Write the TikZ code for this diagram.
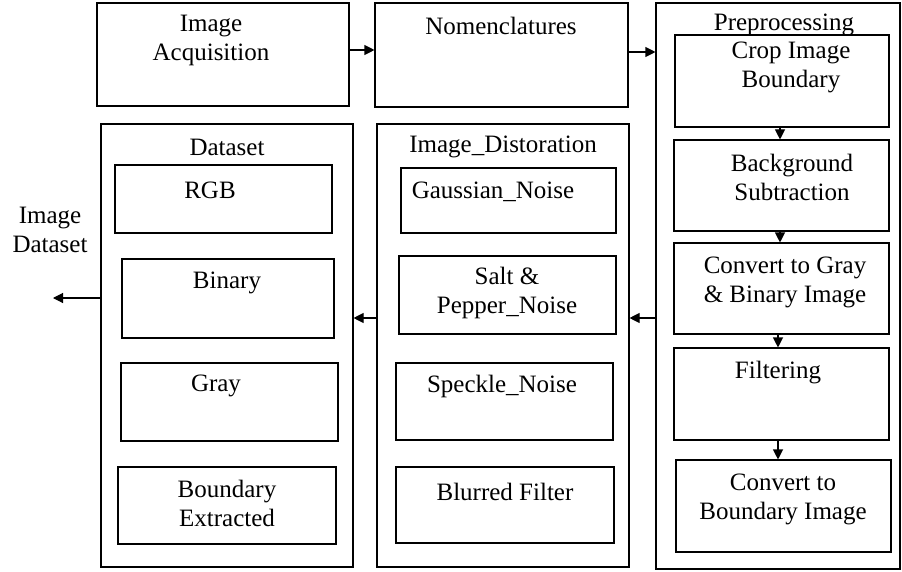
\documentclass[tikz,border=0pt]{standalone}
\usepackage{fontspec}
\setmainfont{Liberation Serif}
\usetikzlibrary{arrows.meta}
\begin{document}
\begin{tikzpicture}[x=1pt,y=-1pt,
  box/.style={draw, line width=1.1pt, inner sep=0pt},
  lbl/.style={font=\fontsize{25}{29}\selectfont, align=center, inner sep=0pt},
  arr/.style={line width=1.1pt, -{Triangle[length=10pt,width=10pt]}}]
\useasboundingbox[fill=white] (0,0) rectangle (902,572);
% top row
\node[box, minimum width=252pt, minimum height=103pt] (ia) at (223,54.5) {};
\node[box, minimum width=253pt, minimum height=104pt] (nom) at (501.5,55) {};
% preprocessing
\node[box, minimum width=244pt, minimum height=566pt] (pre) at (778,286) {};
\node[box, minimum width=214pt, minimum height=92pt] (crop) at (782,81) {};
\node[box, minimum width=215pt, minimum height=91pt] (bg) at (781.5,185.5) {};
\node[box, minimum width=215pt, minimum height=91pt] (cg) at (781.5,288.5) {};
\node[box, minimum width=215pt, minimum height=92pt] (filt) at (781.5,394) {};
\node[box, minimum width=215pt, minimum height=92pt] (cb) at (783.5,506) {};
% distortion
\node[box, minimum width=252pt, minimum height=443pt] (dist) at (503,345.5) {};
\node[box, minimum width=215pt, minimum height=65pt] (gauss) at (508.5,200.5) {};
\node[box, minimum width=217pt, minimum height=78pt] (salt) at (507.5,295) {};
\node[box, minimum width=217pt, minimum height=77pt] (speck) at (504.5,401.5) {};
\node[box, minimum width=218pt, minimum height=76pt] (blur) at (505,505) {};
% dataset
\node[box, minimum width=252pt, minimum height=443pt] (data) at (227,345.5) {};
\node[box, minimum width=217pt, minimum height=68pt] (rgb) at (223.5,199) {};
\node[box, minimum width=212pt, minimum height=79pt] (bin) at (228,298.5) {};
\node[box, minimum width=217pt, minimum height=78pt] (gray) at (229.5,402) {};
\node[box, minimum width=218pt, minimum height=77pt] (be) at (227,505.5) {};
% labels
\node[lbl] (tIA) at (211,40) {Image\\Acquisition};
\node[lbl] (tNom) at (501,26) {Nomenclatures};
\node[lbl] (tPre) at (784,25) {Preprocessing};
\node[lbl] (tCrop) at (791,67) {Crop Image\\Boundary};
\node[lbl] (tBg) at (792,177) {Background\\Subtraction};
\node[lbl] (tCg) at (785,282) {Convert to Gray\\\& Binary Image};
\node[lbl] (tFilt) at (778,373) {Filtering};
\node[lbl] (tCb) at (783,499) {Convert to\\Boundary Image};
\node[lbl] (tDist) at (503,147) {Image\_Distoration};
\node[lbl] (tGauss) at (493,192) {Gaussian\_Noise};
\node[lbl] (tSalt) at (507,293) {Salt \&\\Pepper\_Noise};
\node[lbl] (tSpeck) at (502,386) {Speckle\_Noise};
\node[lbl] (tBlur) at (505,492) {Blurred Filter};
\node[lbl] (tData) at (227,147) {Dataset};
\node[lbl] (tRGB) at (210,190) {RGB};
\node[lbl] (tBin) at (227,283) {Binary};
\node[lbl] (tGray) at (216,386) {Gray};
\node[lbl] (tBE) at (227,503) {Boundary\\Extracted};
\node[lbl] (tID) at (50,230) {Image\\Dataset};
% connectors
\coordinate (out) at (53,298);
\draw[arr] (ia.east |- 0,50) -- (nom.west |- 0,50);
\draw[arr] (nom.east |- 0,52) -- (pre.west |- 0,52);
\draw[arr] (crop.south -| 780,0) -- (bg.north -| 780,0);
\draw[arr] (bg.south -| 780,0) -- (cg.north -| 780,0);
\draw[arr] (cg.south -| 778,0) -- (filt.north -| 778,0);
\draw[arr] (filt.south -| 778,0) -- (cb.north -| 778,0);
\draw[arr] (pre.west |- 0,318) -- (dist.east |- 0,318);
\draw[arr] (dist.west |- 0,318) -- (data.east |- 0,318);
\draw[arr] (data.west |- out) -- (out);
\end{tikzpicture}
\end{document}
